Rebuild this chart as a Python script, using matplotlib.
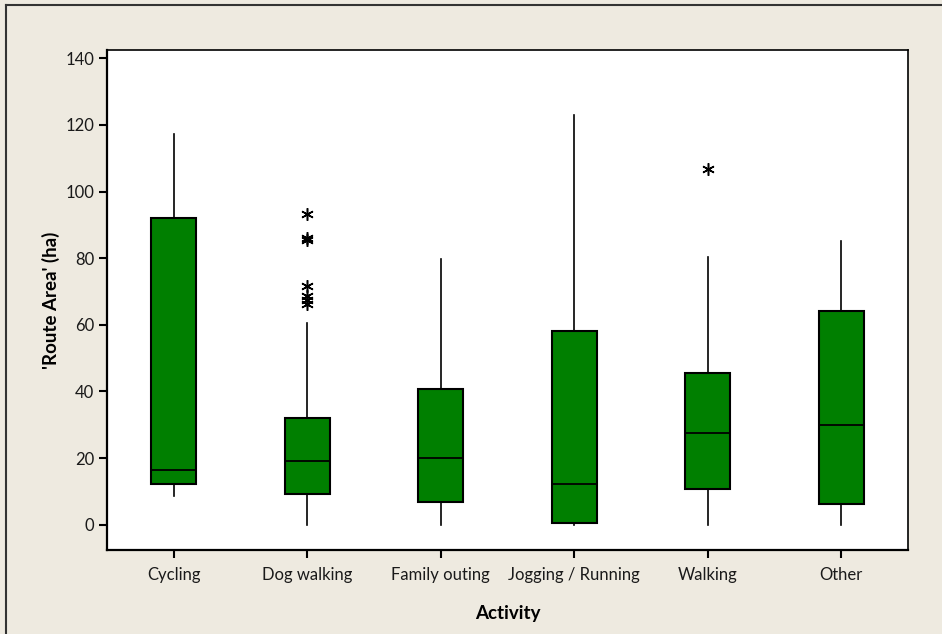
import matplotlib
matplotlib.use("Agg")
import matplotlib.pyplot as plt
from matplotlib.lines import Line2D

plt.rcParams['font.family'] = ['Lato', 'DejaVu Sans']

activities = ["Cycling", "Dog walking", "Family outing", "Jogging / Running", "Walking", "Other"]
whisker_low = [8.7, 0.0, 0.0, 0.0, 0.0, 0.0]
q1 = [12.2, 9.1, 6.7, 0.4, 10.7, 6.3]
median = [16.3, 19.2, 20.1, 12.2, 27.5, 30.0]
q3 = [92.2, 31.9, 40.8, 58.2, 45.4, 64.1]
whisker_high = [117.3, 60.6, 79.8, 123.0, 80.3, 85.2]
outliers = [
    [],
    [93.3, 86.2, 85.6, 71.8, 68.6, 67.4, 66.4],
    [],
    [],
    [106.8],
    [],
]
y_ticks = [0, 20, 40, 60, 80, 100, 120, 140]

bg = "#EEEAE0"
fig = plt.figure(figsize=(9.42, 6.34), dpi=100, facecolor=bg)
ax = fig.add_axes([0.1136, 0.1325, 0.8503, 0.7886])
ax.set_facecolor("white")

stats = []
for i, name in enumerate(activities):
    stats.append(dict(label=name, whislo=whisker_low[i], q1=q1[i], med=median[i],
                      q3=q3[i], whishi=whisker_high[i], fliers=outliers[i]))

positions = list(range(1, len(activities) + 1))
ax.bxp(stats, positions=positions, widths=0.34, patch_artist=True, showcaps=False,
       boxprops=dict(facecolor="#007F00", edgecolor="black", linewidth=1.5),
       medianprops=dict(color="black", linewidth=1.3),
       whiskerprops=dict(color="black", linewidth=1.2),
       flierprops=dict(marker=(6, 2, 0), markersize=9, markeredgecolor="black",
                       markerfacecolor="black", markeredgewidth=1.1, linestyle="none"))

ax.set_xlim(0.5, 6.5)
ax.set_ylim(-7.6, 142.5)
ax.set_yticks(y_ticks)
ax.set_xticks(positions)
ax.set_xticklabels(activities, fontsize=12, color="#1a1a1a")
ax.tick_params(axis="y", labelsize=12, labelcolor="#1a1a1a", length=6, width=1.5, direction="out", pad=3)
ax.tick_params(axis="x", length=6, width=1.5, direction="out", pad=6)

for side in ["left", "bottom"]:
    ax.spines[side].set_linewidth(1.6)
for side in ["top", "right"]:
    ax.spines[side].set_linewidth(1.2)

ax.set_xlabel("Activity", fontsize=13.5, fontweight="bold", labelpad=16)
ax.set_ylabel("'Route Area' (ha)", fontsize=13.5, fontweight="bold", labelpad=4)

# Frame around the graph window (top and left edges)
fig.add_artist(Line2D([6 / 942, 1.0], [1 - 5 / 634, 1 - 5 / 634], transform=fig.transFigure,
                      color="#333333", linewidth=1.5))
fig.add_artist(Line2D([6 / 942, 6 / 942], [0.0, 1 - 5 / 634], transform=fig.transFigure,
                      color="#333333", linewidth=1.5))

fig.savefig("out.png", dpi=100, facecolor=bg)
